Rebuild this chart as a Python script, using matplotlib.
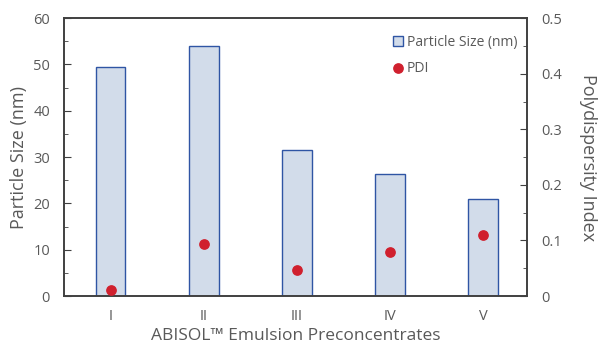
import matplotlib
matplotlib.use("Agg")
import matplotlib.pyplot as plt
from matplotlib.ticker import MultipleLocator, FuncFormatter

categories = ["I", "II", "III", "IV", "V"]
particle_size = [49.5, 54.0, 31.5, 26.3, 21.0]
pdi = [0.010, 0.093, 0.047, 0.079, 0.110]

gray = "#595959"
plt.rcParams["font.family"] = ["Open Sans", "DejaVu Sans"]

fig, ax = plt.subplots(figsize=(6.03, 3.43), dpi=100)
fig.subplots_adjust(left=0.106, right=0.874, top=0.947, bottom=0.137)

x = list(range(len(categories)))
ax.bar(x, particle_size, width=0.32, color="#d2dcea", edgecolor="#2f55a4",
       linewidth=1.0, label="Particle Size (nm)")
ax.set_xlim(-0.5, 4.47)
ax.set_ylim(0, 60)
ax.set_xticks(x)
ax.set_xticklabels(categories)
ax.yaxis.set_major_locator(MultipleLocator(10))
ax.yaxis.set_minor_locator(MultipleLocator(5))
ax.set_ylabel("Particle Size (nm)", color=gray, fontsize=13)
ax.set_xlabel("ABISOL\u2122 Emulsion Preconcentrates", color=gray, fontsize=12.5,
              labelpad=3)

ax2 = ax.twinx()
ax2.scatter(x, pdi, s=45, color="#d0202e", zorder=3, label="PDI")
ax2.set_ylim(0, 0.5)
ax2.yaxis.set_major_locator(MultipleLocator(0.1))
ax2.yaxis.set_minor_locator(MultipleLocator(0.05))
ax2.yaxis.set_major_formatter(FuncFormatter(lambda v, p: "0" if abs(v) < 1e-9 else f"{v:.1f}"))
ax2.set_ylabel("Polydispersity Index", color=gray, fontsize=13, rotation=270, labelpad=25)

for a in (ax, ax2):
    a.tick_params(axis="both", which="both", direction="in", colors="#404040",
                  labelcolor=gray, labelsize=10.5)
    a.tick_params(which="major", length=5)
    a.tick_params(which="minor", length=3)
    for s in a.spines.values():
        s.set_color("#404040")
        s.set_linewidth(1.2)
ax.tick_params(axis="x", length=0, pad=9)
ax.tick_params(axis="y", pad=10)
ax2.tick_params(axis="y", pad=10)

h1, l1 = ax.get_legend_handles_labels()
h2, l2 = ax2.get_legend_handles_labels()
ax2.legend(h1 + h2, l1 + l2, loc="upper right", frameon=False, fontsize=10,
           labelcolor=gray, handlelength=0.7, handletextpad=0.3,
           borderaxespad=0.3, bbox_to_anchor=(1.0, 0.975), labelspacing=0.8)

fig.savefig("out.png", dpi=100)
